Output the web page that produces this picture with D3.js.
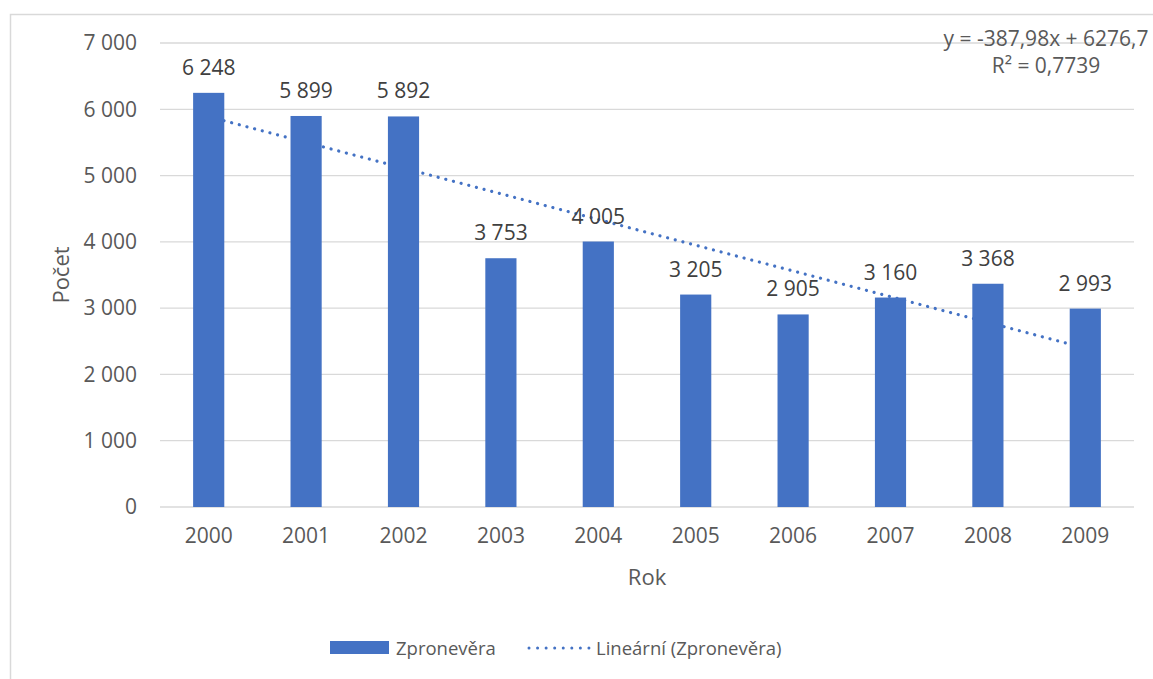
<!DOCTYPE html>
<html>
<head>
<meta charset="utf-8">
<script src="https://cdn.jsdelivr.net/npm/d3@7"></script>
<style>
  html, body { margin: 0; padding: 0; background: #fff; }
  svg { display: block; font-family: "Open Sans", "Noto Sans", sans-serif; }
</style>
</head>
<body>
<svg id="chart" width="1153" height="679"></svg>
<script>
// Zpronevěra podle roku
const years = ["2000", "2001", "2002", "2003", "2004", "2005", "2006", "2007", "2008", "2009"];
const counts = [6248, 5899, 5892, 3753, 4005, 3205, 2905, 3160, 3368, 2993];
const yTicks = [0, 1000, 2000, 3000, 4000, 5000, 6000, 7000];
// Lineární trend: y = slope * x + intercept, x = 1..n
const trendSlope = -387.98;
const trendIntercept = 6276.7;
const trendEquation = "y = -387,98x + 6276,7";
const trendR2 = "R² = 0,7739";
const seriesName = "Zpronevěra";
const trendName = "Lineární (Zpronevěra)";
const xTitle = "Rok";
const yTitle = "Počet";

const blue = "#4472C4";
const grid = "#d9d9d9";
const axisText = "#595959";
const labelText = "#404040";

const svg = d3.select("#chart");
const W = 1153, H = 679;

// chart border (top + left visible)
svg.append("rect")
  .attr("x", 10.5).attr("y", 14.5)
  .attr("width", W + 20).attr("height", H + 20)
  .attr("fill", "none").attr("stroke", grid).attr("stroke-width", 1.5);

const plot = { left: 160, right: 1134, top: 43, bottom: 507 };

const x = d3.scaleBand().domain(years).range([plot.left, plot.right]).paddingInner(0.68).paddingOuter(0.34);
const y = d3.scaleLinear().domain([0, 7000]).range([plot.bottom, plot.top]);

const fmt = v => d3.format(",")(v).replace(/,/g, " ");

// gridlines
svg.append("g").selectAll("line").data(yTicks).join("line")
  .attr("x1", plot.left).attr("x2", plot.right)
  .attr("y1", d => y(d)).attr("y2", d => y(d))
  .attr("stroke", grid).attr("stroke-width", 1.3);

// y axis labels
const yAxis = d3.axisLeft(y).tickValues(yTicks).tickFormat(fmt).tickSize(0).tickPadding(0);
const yg = svg.append("g").attr("transform", `translate(${plot.left - 23},0)`).call(yAxis);
yg.select(".domain").remove();
yg.selectAll("text").attr("fill", axisText).style("font-size", "21px").style("font-family", "Open Sans");

// x axis labels
const xAxis = d3.axisBottom(x).tickSize(0).tickPadding(0);
const xg = svg.append("g").attr("transform", `translate(0,${plot.bottom + 21})`).call(xAxis);
xg.select(".domain").remove();
xg.selectAll("text").attr("fill", axisText).style("font-size", "21px").style("font-family", "Open Sans");

// trend line (behind bars)
const trendPts = [1, years.length].map(i => [x(years[i - 1]) + x.bandwidth() / 2, y(trendSlope * i + trendIntercept)]);
svg.append("path")
  .attr("d", d3.line()(trendPts))
  .attr("fill", "none").attr("stroke", blue).attr("stroke-width", 3.2)
  .attr("stroke-linecap", "round").attr("stroke-dasharray", "0.01 7.9");

// bars
svg.append("g").selectAll("rect").data(counts).join("rect")
  .attr("x", (d, i) => x(years[i]))
  .attr("y", d => y(d))
  .attr("width", x.bandwidth())
  .attr("height", d => y(0) - y(d))
  .attr("fill", blue);

// data labels
svg.append("g").selectAll("text").data(counts).join("text")
  .attr("x", (d, i) => x(years[i]) + x.bandwidth() / 2)
  .attr("y", d => y(d) - 18)
  .attr("text-anchor", "middle")
  .attr("fill", labelText)
  .style("font-size", "21px")
  .text(d => fmt(d));

// axis titles
svg.append("text").attr("x", (plot.left + plot.right) / 2).attr("y", 585)
  .attr("text-anchor", "middle").attr("fill", axisText).style("font-size", "22px").text(xTitle);
svg.append("text")
  .attr("transform", `translate(69,${(plot.top + plot.bottom) / 2}) rotate(-90)`)
  .attr("text-anchor", "middle").attr("fill", axisText).style("font-size", "22px").text(yTitle);

// trend equation
const eq = svg.append("text").attr("text-anchor", "middle").attr("fill", axisText).style("font-size", "21px");
eq.append("tspan").attr("x", 1046).attr("y", 46).text(trendEquation);
eq.append("tspan").attr("x", 1046).attr("y", 73).text(trendR2);

// legend
const lg = svg.append("g");
lg.append("rect").attr("x", 330).attr("y", 641).attr("width", 59).attr("height", 13).attr("fill", blue);
lg.append("text").attr("x", 396).attr("y", 655).attr("fill", axisText).style("font-size", "18.5px").text(seriesName);
lg.append("line").attr("x1", 529).attr("x2", 589).attr("y1", 648).attr("y2", 648)
  .attr("stroke", blue).attr("stroke-width", 3).attr("stroke-linecap", "round").attr("stroke-dasharray", "0.01 8.55");
lg.append("text").attr("x", 596).attr("y", 655).attr("fill", axisText).style("font-size", "18.5px").text(trendName);
</script>
</body>
</html>
